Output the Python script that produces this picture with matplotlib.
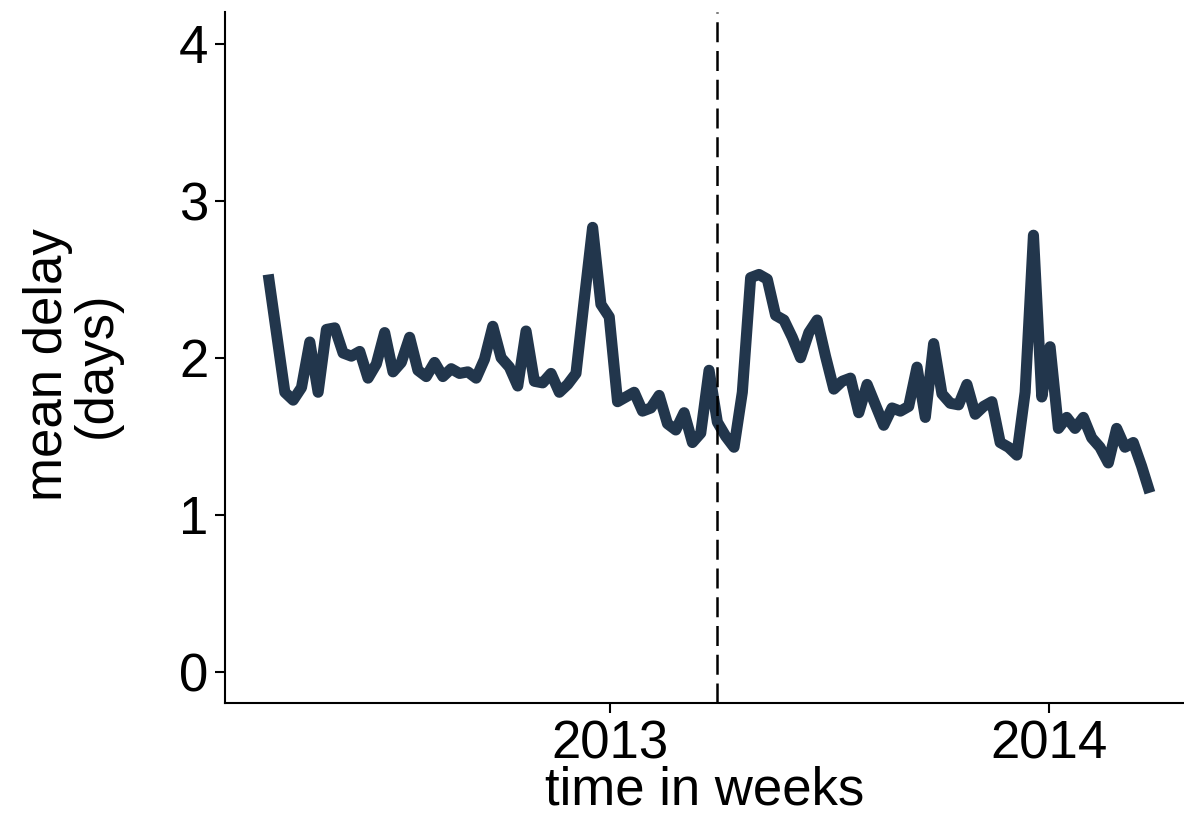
import numpy as np
import matplotlib
matplotlib.use("Agg")
import matplotlib.pyplot as plt

plt.rcParams['font.family'] = ['Liberation Sans', 'DejaVu Sans']

# weekly mean delay (days); week 1 has no value
week = [0] + list(range(2, 107))
mean_delay = [
    2.53, 1.78, 1.73, 1.81, 2.10, 1.78, 2.18, 2.19, 2.03, 2.01,
    2.04, 1.87, 1.96, 2.16, 1.91, 1.97, 2.13, 1.92, 1.88, 1.97,
    1.88, 1.93, 1.90, 1.91, 1.87, 1.99, 2.20, 2.00, 1.94, 1.82,
    2.17, 1.85, 1.84, 1.90, 1.78, 1.83, 1.90, 2.37, 2.83, 2.34,
    2.26, 1.72, 1.75, 1.78, 1.66, 1.68, 1.76, 1.58, 1.54, 1.65,
    1.46, 1.52, 1.92, 1.59, 1.50, 1.43, 1.78, 2.51, 2.53, 2.50,
    2.27, 2.24, 2.13, 2.00, 2.16, 2.24, 2.01, 1.80, 1.85, 1.87,
    1.65, 1.83, 1.70, 1.57, 1.68, 1.66, 1.69, 1.94, 1.62, 2.09,
    1.77, 1.71, 1.70, 1.83, 1.64, 1.69, 1.72, 1.46, 1.43, 1.38,
    1.78, 2.78, 1.75, 2.07, 1.55, 1.62, 1.55, 1.62, 1.49, 1.43,
    1.33, 1.55, 1.43, 1.46, 1.31, 1.14,
]
cutoff_week = 54
year_weeks = [41.1, 93.9]
year_labels = ["2013", "2014"]
y_ticks = [0, 1, 2, 3, 4]

fig = plt.figure(figsize=(11.84, 8.13), dpi=100)
ax = fig.add_axes([0.190, 0.135, 0.81, 0.85])

ax.plot(week, mean_delay, color="#22364c", lw=8, solid_capstyle="butt")
ax.axvline(cutoff_week, color="black", lw=1.8, linestyle=(0, (8, 3.5)))

ax.set_xlim(-5.2, 110.1)
ax.set_ylim(-0.2, 4.2)
ax.set_yticks(y_ticks)
ax.set_xticks(year_weeks, year_labels)

for side in ["top", "right"]:
    ax.spines[side].set_visible(False)
for side in ["left", "bottom"]:
    ax.spines[side].set_linewidth(1.5)

ax.tick_params(axis="both", labelsize=38, width=1.5, length=7, pad=5)
ax.set_xlabel("time in weeks", fontsize=38, labelpad=-3)
ax.set_ylabel("mean delay\n(days)", fontsize=38, linespacing=0.95)
ax.yaxis.set_label_coords(-0.108, 0.49)

fig.savefig("out.png", dpi=100)
